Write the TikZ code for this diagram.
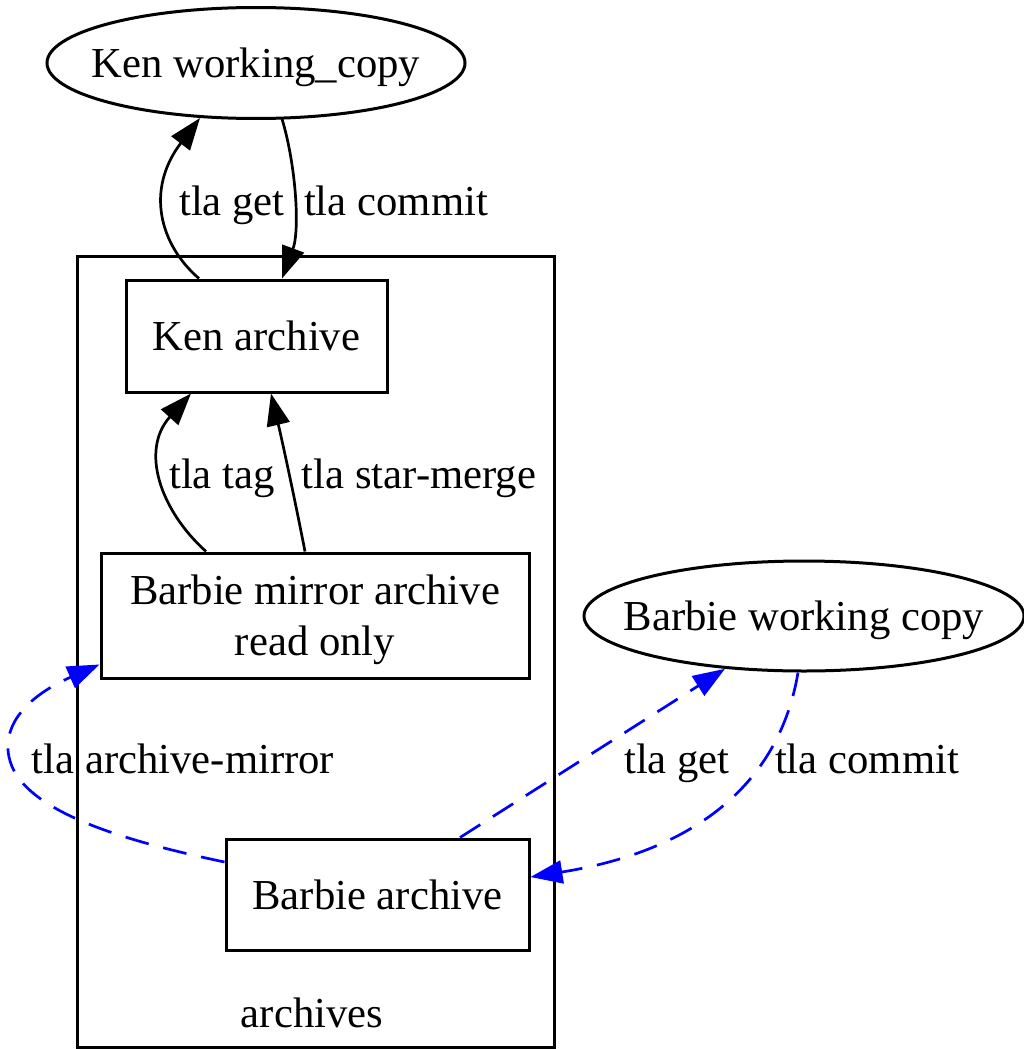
\documentclass[tikz,border=0pt]{standalone}
\usepackage{fontspec}
\setmainfont{Liberation Serif}
\usetikzlibrary{arrows.meta,shapes.geometric}
\begin{document}
\begin{tikzpicture}[x=1pt,y=-1pt,
  every node/.style={font=\fontsize{42.7}{51}\selectfont},
  wc/.style={draw,ellipse,line width=3pt,inner sep=0pt,text depth=0pt,minimum width=418pt,minimum height=111pt},
  box/.style={draw,rectangle,line width=3pt,inner sep=0pt,text depth=0pt,align=center},
  lbl/.style={inner sep=0pt,anchor=base},
  edge/.style={line width=2.7pt,-{Triangle[length=32pt,width=23pt]}},
  bedge/.style={edge,blue,dash pattern=on 24pt off 15pt}]
\useasboundingbox (0,0) rectangle (1024,1049);
% cluster
\node[draw,line width=3pt,minimum width=477pt,minimum height=791pt,inner sep=0pt] (cl) at (315.5,651.5) {};
\node[lbl] (cllbl) at (312,1027) {archives};
% nodes
\node[wc] (kw) at (256,63) {\makebox[0pt]{Ken working\_copy}};
\node[wc,minimum width=440pt,minimum height=110pt] (bw) at (804,616) {\makebox[0pt]{Barbie working copy}};
\node[box,minimum width=261pt,minimum height=112pt] (ka) at (256.5,336) {Ken archive};
\node[box,minimum width=428pt,minimum height=125pt] (bm) at (315,615.5) {Barbie mirror archive\\read only};
\node[box,minimum width=303pt,minimum height=111pt] (ba) at (377.5,894.5) {Barbie archive};
% black edges
\draw[edge] ([xshift=-57.5pt]ka.north) .. controls (160,245) and (145,190) .. ([xshift=-56pt,yshift=2pt]kw.south);
\draw[edge] ([xshift=26pt,yshift=1pt]kw.south) .. controls (296,165) and (300,230) .. ([xshift=25.5pt]ka.north);
\draw[edge] ([xshift=-109pt]bm.north) .. controls (160,510) and (140,450) .. ([xshift=-65.5pt]ka.south);
\draw[edge] ([xshift=-10pt]bm.north) .. controls (295,500) and (282,440) .. ([xshift=14.5pt]ka.south);
\node[lbl] (l1) at (232,215) {tla get};
\node[lbl] (l2) at (396,215) {tla commit};
\node[lbl] (l3) at (222,488) {tla tag};
\node[lbl] (l4) at (419,488) {tla star-merge};
% blue edges
\coordinate (amid) at (9,757);
\draw[bedge] ([yshift=32.5pt]ba.west) .. controls (120,840) and (20,810) .. (amid) .. controls (2,723) and (30,695) .. ([yshift=-49pt]bm.west);
\draw[bedge] ([xshift=82.5pt]ba.north) -- ([xshift=-79pt,yshift=3.7pt]bw.south);
\draw[bedge] ([xshift=-6pt]bw.south) .. controls (780,780) and (700,850) .. ([yshift=17.5pt]ba.east);
\node[lbl] (l5) at (183,773) {tla archive-mirror};
\node[lbl] (l6) at (677,773) {tla get};
\node[lbl] (l7) at (867,773) {tla commit};
\end{tikzpicture}
\end{document}
